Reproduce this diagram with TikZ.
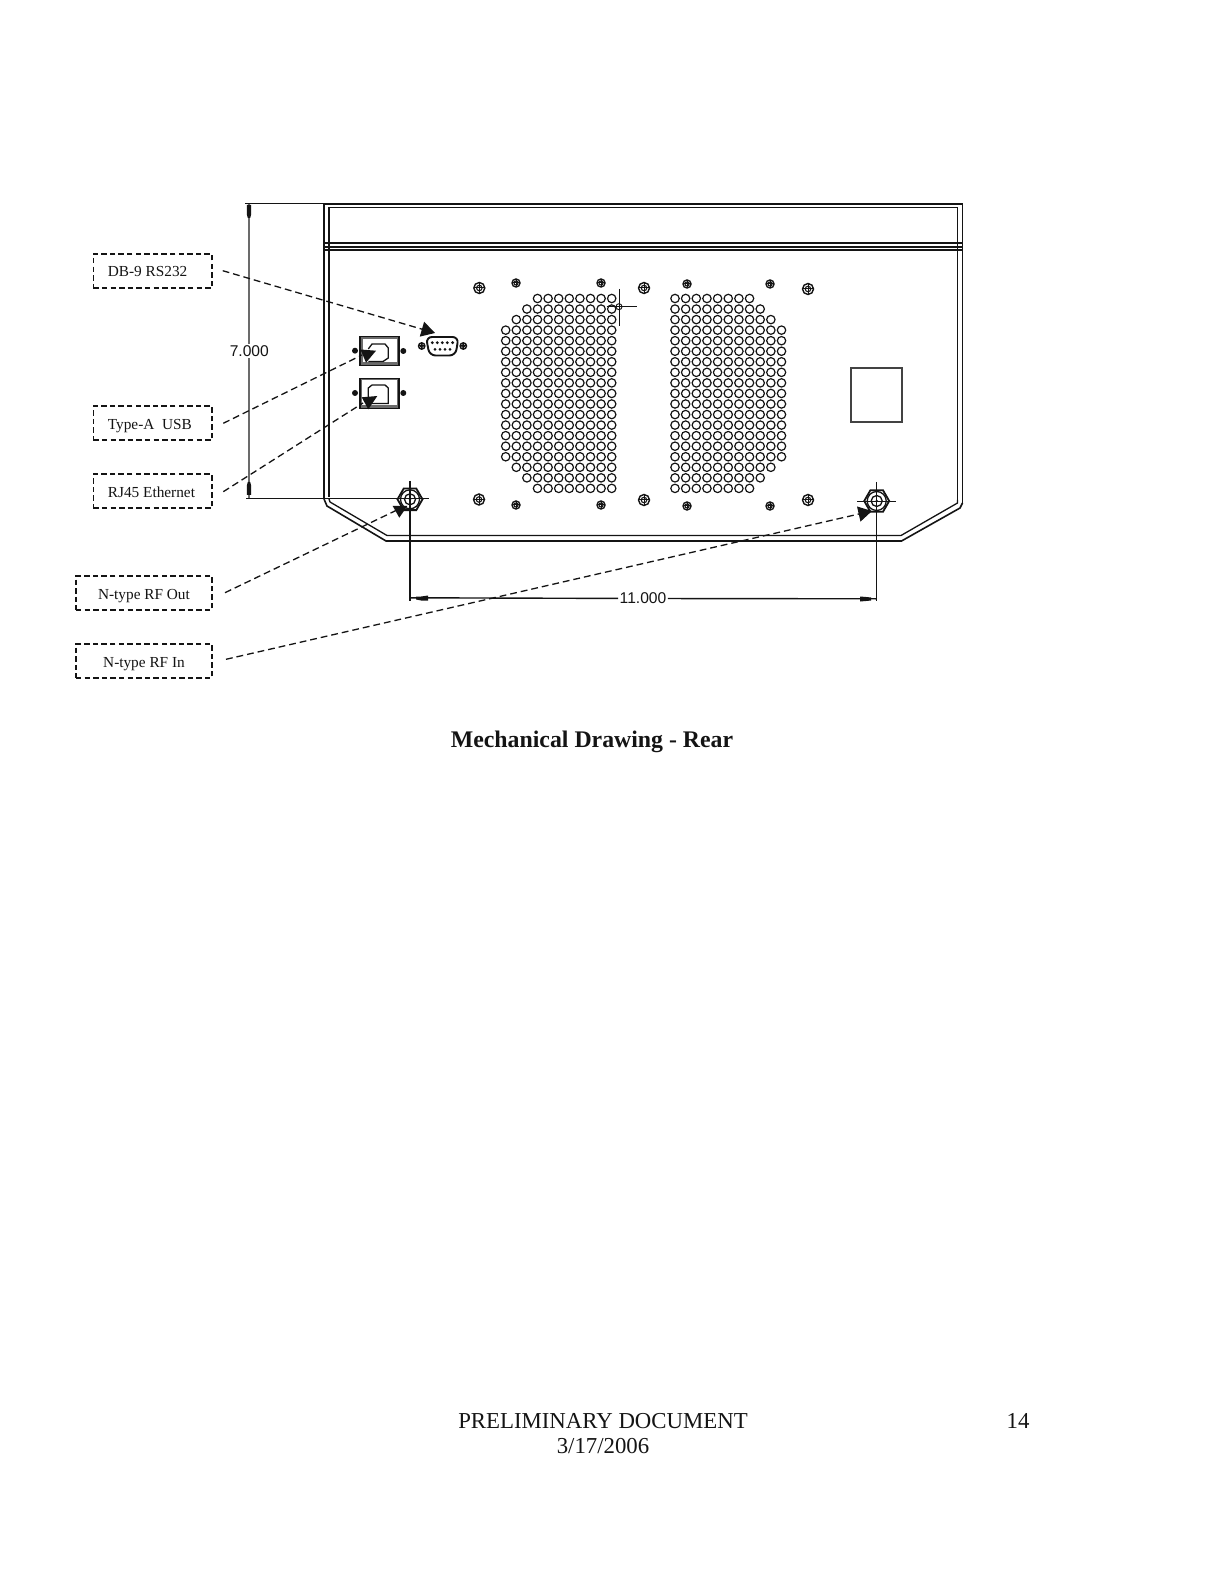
\documentclass[tikz,border=0pt]{standalone}
\usepackage{fontspec}
\setmainfont{Liberation Serif}
\setsansfont{Liberation Sans}
\usetikzlibrary{arrows.meta}
\definecolor{ink}{gray}{0.08}
\definecolor{dimgrey}{gray}{0.42}
\tikzset{
  ink line/.style={draw=ink,line width=0.65pt},
  thin ink/.style={draw=ink,line width=0.45pt},
  calloutbox/.style={draw=ink,line width=0.8pt,dash pattern=on 2.7pt off 1.6pt,inner sep=0pt,minimum height=17pt,font=\fontsize{7.65}{10}\selectfont,text=ink},
  leader/.style={draw=ink,line width=0.65pt,dash pattern=on 3.4pt off 2pt},
  leadtip/.style={-{Triangle[length=6.8pt,width=7.6pt,fill=ink]}},
  headfill/.style={fill=ink,draw=none},
  hole/.style={draw=ink,line width=0.6pt,fill=white},
  dimtext/.style={font=\sffamily\fontsize{7.8}{10}\selectfont,fill=white,inner sep=0.6pt,text=ink},
  pagetext/.style={font=\fontsize{11.4}{14}\selectfont,text=ink,inner sep=0pt}
}
\newcommand{\bolt}[3]{%
  \draw[ink line,line width=0.7pt] (#1,#2) circle (#3);
  \draw[thin ink,line width=0.55pt] (#1,#2) circle ({#3*0.5});
  \draw[thin ink,line width=0.5pt] ({#1-#3},#2) -- ({#1+#3},#2) ({#1},{#2-#3}) -- ({#1},{#2+#3});
}
\newcommand{\lowered}[2]{\raisebox{-#1pt}[0pt][0pt]{#2}}
\begin{document}
\begin{tikzpicture}[x=0.5pt,y=-0.5pt]
\useasboundingbox (0,0) rectangle (1228,1582);
\fill[white] (0,0) rectangle (1228,1582);

% enclosure
\draw[ink line,line width=0.8pt] (324,499) -- (324,204) -- (962.5,204) -- (962.5,503);
\draw[ink line] (329,250) -- (329,497);
\draw[ink line] (957.5,250) -- (957.5,500);
\draw[ink line] (329,207.5) -- (957.5,207.5) (329,207.5) -- (329,250);
\draw[ink line] (957.5,207.5) -- (957.5,250);
\draw[ink line,line width=0.8pt] (324,243) -- (962.5,243);
\draw[ink line] (324,247) -- (962.5,247);
\draw[ink line,line width=0.8pt] (324,250) -- (962.5,250);
\draw[ink line,line width=0.8pt] (324,499) -- (327,506) -- (386,541) -- (901.5,541) -- (960,508) -- (962.5,503);
\draw[ink line] (329,499) -- (330,502) -- (387,535.5) -- (901,535.5) -- (957.5,503) -- (957.5,500);

% perforations, left panel
\foreach \r/\a in {0/3,1/2,2/1,3/0,4/0,5/0,6/0,7/0,8/0,9/0,10/0,11/0,12/0,13/0,14/0,15/0,16/1,17/2,18/3}{
  \foreach \c in {\a,...,10}{
    \draw[hole] ({505.7+10.6*\c},{298.5+10.55*\r}) circle (4.2);
  }
}
% perforations, right panel
\foreach \r/\b in {0/7,1/8,2/9,3/10,4/10,5/10,6/10,7/10,8/10,9/10,10/10,11/10,12/10,13/10,14/10,15/10,16/9,17/8,18/7}{
  \foreach \c in {0,...,\b}{
    \draw[hole] ({675+10.65*\c},{298.5+10.55*\r}) circle (4.2);
  }
}

% bolts
\bolt{479.3}{288}{5.5}\bolt{516}{283}{4}\bolt{601}{283}{4}\bolt{644}{288}{5.5}
\bolt{687}{284}{4}\bolt{770}{284}{4}\bolt{808}{289}{5.5}
\bolt{479}{499.5}{5.5}\bolt{516}{505}{4}\bolt{601}{505}{4}\bolt{644}{500}{5.5}
\bolt{687}{506}{4}\bolt{770}{506}{4}\bolt{808}{500}{5.5}

% crosshair mark beside left panel
\draw[thin ink] (619,289) -- (619,326) (606.7,306.7) -- (636.7,306.7);
\draw[thin ink] (619,306.7) circle (3);

% square cut-out
\draw[draw=ink!80,line width=0.7pt] (851,368) rectangle (902,422);

% USB port
\fill[dimgrey] (360,336.7) rectangle (399,365.3);
\fill[white] (362.5,339.5) rectangle (397,362.5);
\draw[ink line] (360,336.7) rectangle (399,365.3);
\draw[ink line] (368.3,349) -- (372,344) -- (385,344) -- (388.3,348) -- (388.3,358) -- (383,361.5) -- (368.3,361.5);
% RJ45 port
\fill[dimgrey] (360,378.3) rectangle (399,408.3);
\fill[white] (361.5,379.8) rectangle (397,405.5);
\draw[ink line] (360,378.3) rectangle (399,408.3);
\draw[ink line] (368.3,388) -- (372,385) -- (385,385) -- (388.3,388) -- (388.3,403.5) -- (368.3,403.5) -- cycle;
\fill[ink] (355,350.7) circle (3) (403.3,351) circle (3) (355,393) circle (3) (403.3,393) circle (3);

% DB-9 connector
\draw[ink line,line width=0.95pt,rounded corners=3pt] (426,337) -- (458.5,337) -- (455.5,355.5) -- (429.5,355.5) -- cycle;
\foreach \px in {432.3,437.3,442.3,447.3,452.6}{\fill[ink] (\px,342.7) circle (1.6);}
\foreach \px in {435,440,445,450}{\fill[ink] (\px,349.3) circle (1.5);}
\bolt{421.7}{346}{3.2}\bolt{463.3}{346}{3.2}

% RF connectors
\coordinate (rfoutc) at (410,499.3);
\coordinate (rfinc) at (876.7,501);
\foreach \cc in {rfoutc,rfinc}{
  \draw[ink line,line width=0.9pt] (\cc) +(0:12.5) -- +(60:12.5) -- +(120:12.5) -- +(180:12.5) -- +(240:12.5) -- +(300:12.5) -- cycle;
  \draw[ink line] (\cc) circle (9.5);
  \draw[ink line] (\cc) circle (5.5);
  \fill[ink] (\cc) circle (1.3);
}

% dimension 7.000
\coordinate (dimtop) at (249,204);
\coordinate (dimbot) at (249,498.3);
\draw[draw=dimgrey,line width=0.75pt] (dimtop) -- (dimbot);
\draw[draw=ink,line width=0.45pt] (245,203) -- (324,203);
\draw[draw=ink,line width=0.55pt] (246,498.6) -- (429,498.6);
\fill[ink] (246.8,205) -- (251.2,205) -- (251.2,214) -- (250.2,218) -- (247.8,218) -- (246.8,214) -- cycle;
\fill[ink] (246.8,495) -- (251.2,495) -- (251.2,486) -- (250.2,482) -- (247.8,482) -- (246.8,486) -- cycle;
\node[dimtext,fill=white] (dimseven) at (249.3,351) {7.000};

% dimension 11.000
\node[dimtext] (dimeleven) at (643,598.5) {11.000};
\coordinate (dimleft) at (410,597.8);
\coordinate (dimright) at (876.7,598.8);
\draw[draw=ink,line width=0.7pt] (dimleft) -- (dimeleven) -- (dimright);
\draw[ink line,line width=0.55pt] (410,481) -- (410,600.5);
\draw[ink line,line width=0.55pt] (876.7,482) -- (876.7,601);
\draw[thin ink] (857.3,501) -- (895.7,501);
\fill[ink] (416,596.5) -- (421,596.5) -- (428,595.5) -- (428,600.5) -- (421,600.5) -- (416,599.5) -- cycle;
\fill[ink] (871,597.5) -- (866,597) -- (860,596.5) -- (860,601.5) -- (866,601) -- (871,600.5) -- cycle;

% callouts
\node[calloutbox,minimum width=59.3pt] (db9) at (152.6,271) {\makebox[59.3pt][l]{\hspace{7.3pt}\lowered{2.6}{DB-9 RS232}}};
\node[calloutbox,minimum width=59.3pt] (usb) at (152.6,423.3) {\makebox[59.3pt][l]{\hspace{7.3pt}\lowered{3.1}{Type-A\ \ USB}}};
\node[calloutbox,minimum width=59.3pt] (eth) at (152.6,491.3) {\makebox[59.3pt][l]{\hspace{7.3pt}\lowered{3.1}{RJ45 Ethernet}}};
\node[calloutbox,minimum width=68pt] (rfout) at (144,593) {\lowered{3.1}{N-type RF Out}};
\node[calloutbox,minimum width=68pt] (rfin) at (144,661) {\lowered{3.0}{N-type RF In}};

\coordinate (db9a) at (222.7,270.7);
\coordinate (usba) at (223.3,423.3);
\coordinate (etha) at (223.3,491.7);
\coordinate (rfouta) at (225,592.7);
\coordinate (rfina) at (226,659.3);
\coordinate (db9b) at (435,333);
\coordinate (usbb) at (362,355);
\coordinate (ethb) at (363,403);
\coordinate (rfoutb) at (397,510);
\coordinate (rfinb) at (872,511);

\draw[leader,leadtip] (db9a) -- (db9b);
\draw[leader] (usba) -- (usbb);
\draw[leader] (etha) -- (ethb);
\draw[leader] (rfouta) -- (rfoutb);
\draw[leader,leadtip] (rfina) -- (rfinb);
\fill[headfill] (360.5,349.5) -- (376,350.7) -- (366,362.7) -- cycle;
\fill[headfill] (361.7,397.3) -- (377.3,396) -- (368.3,409.3) -- cycle;
\fill[headfill] (392.7,506) -- (407.3,506) -- (399.3,517.7) -- cycle;

% captions
\node[pagetext,font=\fontsize{11.9}{15}\selectfont\bfseries] (caption) at (592,742) {Mechanical Drawing - Rear};
\node[pagetext] (prelim) at (603,1421) {PRELIMINARY DOCUMENT};
\node[pagetext] (date) at (603,1446) {3/17/2006};
\node[pagetext] (pageno) at (1018,1421) {14};
\end{tikzpicture}
\end{document}
